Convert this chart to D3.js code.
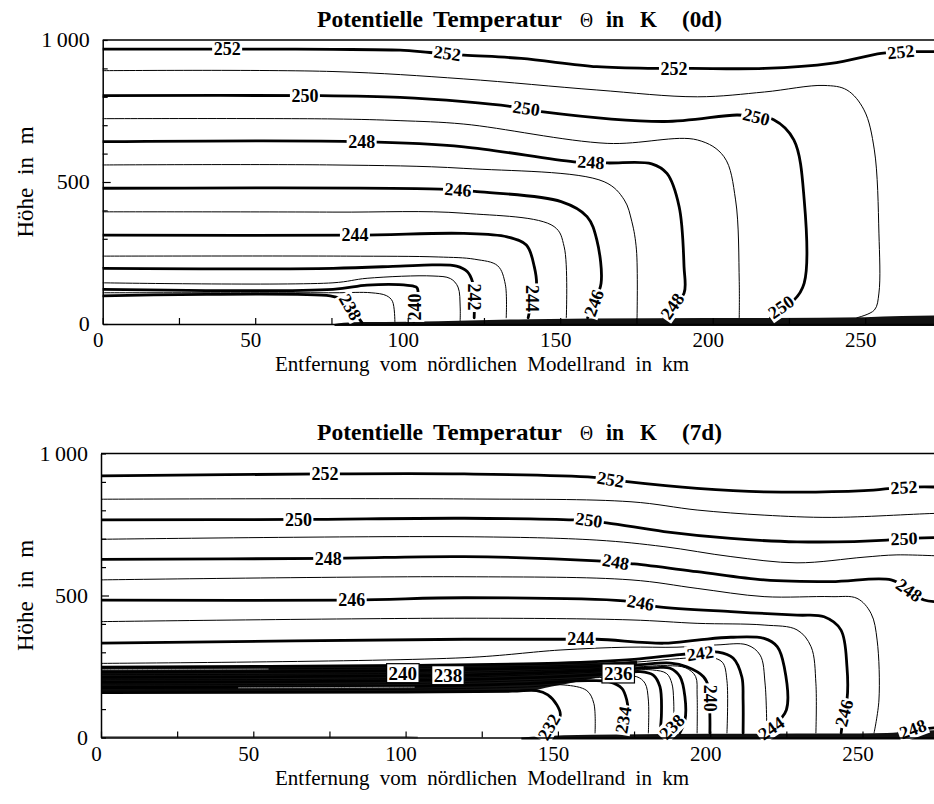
<!DOCTYPE html>
<html>
<head>
<meta charset="utf-8">
<script src="https://cdn.jsdelivr.net/npm/d3@7"></script>
<style>
  body { margin: 0; background: #fff; }
  svg { display: block; }
</style>
</head>
<body>
<svg id="chart" width="934" height="804"></svg>
<script>
// ---- Axes ----
const xTicks = [0, 25, 50, 75, 100, 125, 150, 175, 200, 225, 250, 275];
const xTickLabels = [0, 50, 100, 150, 200, 250];
const yTicks = [0, 100, 200, 300, 400, 500, 600, 700, 800, 900, 1000];
const yTickLabels = { 0: "0", 500: "500", 1000: "1\u2009000" };

// ---- 0d: isentropes, [Entfernung km, Höhe m] ----
const c0_252 = [[0,968],[34,968],[47,968],[75.5,967],[97.5,964],[107.3,956],[118.4,947],[137.2,935],[162,906],[181.7,900],[193,900],[217,900],[238.8,918],[255.2,953],[261.7,959],[268,959],[280,959]];
const c0_251 = [[0,892],[75.5,889],[118.4,863],[162,824],[195,800],[217,817],[236.5,840],[244,824],[249.6,754],[253,613],[254.5,320],[254.5,109],[253,49],[247.3,22]];
const c0_250 = [[0,804],[71.3,804],[97.5,798],[118.4,783],[133.9,766],[143.8,748],[184,713],[208,736],[214,730],[220,719],[226.6,648],[230,437],[230,144],[226.6,84],[222.4,60],[219,22]];
const c0_249 = [[0,723],[75.5,722],[97.5,716],[118.4,704],[165.4,636],[195,648],[203.7,589],[207.5,437],[208.7,150],[208.7,22]];
const c0_248 = [[0,642],[84.9,642],[118.4,624],[154.5,571],[165.4,567],[180,564],[185,530],[189,413],[190.6,202],[190.6,108],[186.7,63],[184,22]];
const c0_247 = [[0,560],[75.5,560],[118.4,548],[164.4,501],[171,437],[173.5,360],[175,261],[175.2,22]];
const c0_246 = [[0,478],[110.6,475],[122.7,466],[150.3,431],[158.8,378],[162,296],[163.4,143],[161,74],[159,22]];
const c0_245 = [[0,395],[75.5,394],[118.4,390],[148,343],[151.3,272],[152,22]];
const c0_244 = [[0,313],[82.7,313],[118.4,319],[132.6,307],[138.9,278],[141.5,202],[142.2,131],[140.8,84],[139.5,22]];
const c0_243 = [[0,239],[80,239],[110,236],[122,228],[129.5,205],[132,140],[132.3,22]];
const c0_242 = [[0,196],[75.5,196],[97.5,204],[108.3,208],[116,204],[119.5,185],[121.2,150],[121.8,95],[121.8,22]];
const c0_241 = [[0,145],[75.5,145],[86.7,161],[108.3,169],[114,160],[116.5,130],[117.2,60],[117.2,12]];
const c0_240 = [[0,122],[75.5,122],[86.7,137],[100,136],[103,128],[103.4,100],[102.4,60],[102,8]];
const c0_239 = [[0,110],[75.5,110],[88,110],[93,100],[95,80],[95.8,8]];
const c0_238 = [[0,99],[74.6,99],[78,88],[81.2,60],[85,5]];
const ground0d = [[76,0],[79,4],[85,7],[100,8],[120,12],[140,17],[180,20],[220,21],[250,24],[262,28],[280,30]];
// [Niveau, km, m, Drehung]
const labels0d = [
  [252, 40.8, 968, 0], [252, 113, 954, 8], [252, 187.3, 900, 0], [252, 261.7, 959, -6],
  [250, 66.3, 804, 0], [250, 138.9, 760, 8], [250, 214.3, 730, 14], [250, 222.4, 60, -35],
  [248, 84.9, 642, 0], [248, 160.1, 570, 4], [248, 186.7, 63, -55],
  [246, 116.5, 473, 5], [246, 161, 74, -70],
  [244, 82.7, 313, 0], [244, 140.8, 90, 90],
  [242, 121.8, 95, 90],
  [240, 102.4, 60, -90],
  [238, 81.2, 60, 60]
];

// ---- 7d ----
const c7_252 = [[0,921],[73.5,928],[119.2,928],[161.8,916],[172.7,901],[195.7,877],[217.7,865],[250.5,869],[263.6,881],[280,881]];
const c7_251 = [[0,839],[119,840],[174,830],[195.7,801],[217.7,783],[239.7,775],[273.5,789],[280,790]];
const c7_250 = [[0,766],[64.8,768],[119.2,772],[155.3,766],[166,756],[184.8,725],[206.8,701],[228.5,689],[258,695],[263.6,701],[280,705]];
const c7_249 = [[0,698],[119.2,707],[162.8,695],[184.8,672],[206.8,637],[228.5,615],[250.5,635],[261.3,643],[280,637]];
const c7_248 = [[0,627],[74.6,631],[119.2,637],[162.8,622],[175,611],[195.7,584],[217.7,555],[239.7,549],[259.4,555],[265.3,519],[270.2,484],[280,478]];
const c7_247 = [[0,555],[119.2,566],[174,555],[195.7,525],[217.7,496],[239.7,496],[248.2,490],[252.8,437],[254.8,343],[255.4,132],[253.8,16]];
const c7_246 = [[0,484],[82.3,484],[119.2,492],[171.7,481],[182.5,461],[206.8,443],[228.5,431],[237.4,425],[242.9,379],[244.9,249],[244.9,132],[243.9,86],[243,16]];
const c7_245 = [[0,408],[119.2,420],[174,414],[195.7,402],[217.7,396],[228.5,379],[233.1,320],[234.7,191],[234.7,16]];
const c7_244 = [[0,332],[119.2,346],[152,346],[162.8,346],[184.8,332],[195.7,343],[206.8,353],[217.7,349],[222,320],[224.3,249],[225,97],[220,33],[218,14]];
const c7_243 = [[0,261],[119.2,281],[150.7,308],[172.7,318],[189.1,318],[202.2,326],[212.1,326],[216.4,290],[218,192],[218.6,16]];
const c7_242 = [[0,248],[100,254],[150,262],[175,275],[190,292],[196.7,297],[202.6,301],[207.5,280],[210.4,213],[210.8,132],[210.8,16]];
const c7_241 = [[0,239],[100,245],[150,253],[175,265],[190,278],[200,282],[204,265],[205.5,200],[205.5,16]];
const c7_240 = [[0,230],[99,235],[150,246],[175,255],[187,262],[192.3,249],[197.8,214],[199.4,179],[199.9,73],[199.9,16]];
const c7_239 = [[0,221],[100,226],[150,238],[175,248],[186,253],[192,245],[195.2,215],[195.7,150],[195.7,16]];
const c7_238 = [[0,212],[113.9,219],[150,231],[170,240],[182,246],[186.8,244],[190.1,214],[191.7,144],[191.7,60],[190,16]];
const c7_237 = [[0,203],[100,208],[150,224],[170,234],[181,238],[185.7,225],[187.4,191],[188,132],[188,16]];
const c7_236 = [[0,194],[100,200],[150,214],[169.5,226],[177,232],[181.3,220],[183.5,179],[184,85],[183.5,16]];
const c7_235 = [[0,185],[100,190],[150,204],[170,214],[175.9,214],[178.6,191],[179.7,132],[179.7,16]];
const c7_234 = [[0,176],[100,180],[140,190],[160,200],[167,196],[171,173],[172.6,132],[173,97],[172,16]];
const c7_233 = [[0,167],[100,170],[140,178],[152,185],[159.5,165],[161.8,120],[162.2,16]];
const c7_232 = [[0,158],[100,160],[135,163],[143,165],[146.7,150],[149.7,114],[150.8,80],[149,40],[146.5,6]];
const c7_248b = [[262,18],[268,28],[280,40]];
// Inversionsschicht: [km, Untergrenze m, Obergrenze m]
const inversion7d = [[0,157,249],[100,159,255],[140,164,259],[148,180,261],[158,200,263],[166,218,265],[172,236,268],[176,252,271]];
// schmale Lücken zwischen den Isentropen in der Inversion
const gapA7d = [[0,239],[20,239.5],[55,241]];
const gapB7d = [[45,175],[80,176],[103,177]];
const ground7d = [[138,0],[145,4],[152,8],[170,11],[200,13],[240,14],[258,16],[266,22],[280,28]];
const surface7d = [[0,2],[100,2],[104,0]];
const labels7d = [
  [252, 73.5, 928, 0], [252, 167.3, 909, 10], [252, 263.6, 881, -3],
  [250, 64.8, 768, 0], [250, 160.2, 766, 8], [250, 263.6, 701, -2],
  [248, 74.6, 631, 0], [248, 169, 619, 10], [248, 265.3, 519, 35], [248, 266.5, 30, -20],
  [246, 82.3, 484, 0], [246, 177.2, 475, 10], [246, 243.9, 86, -75],
  [244, 157.5, 349, 0], [244, 220, 33, -35],
  [242, 196.7, 297, -8],
  [240, 99.1, 227, 0, "box"], [240, 199.9, 138, 90],
  [238, 113.9, 220, 0, "box"], [238, 187.4, 38, -45],
  [236, 169.8, 226, 0, "box"],
  [234, 171.4, 62, -80],
  [232, 147, 37, -60]
];

const lines0d = [[252,c0_252],[251,c0_251],[250,c0_250],[249,c0_249],[248,c0_248],[247,c0_247],[246,c0_246],[245,c0_245],[244,c0_244],[243,c0_243],[242,c0_242],[241,c0_241],[240,c0_240],[239,c0_239],[238,c0_238]];
const lines7d = [[252,c7_252],[251,c7_251],[250,c7_250],[249,c7_249],[248,c7_248],[247,c7_247],[246,c7_246],[245,c7_245],[244,c7_244],[243,c7_243],[242,c7_242],[241,c7_241],[240,c7_240],[239,c7_239],[238,c7_238],[237,c7_237],[236,c7_236],[235,c7_235],[234,c7_234],[233,c7_233],[232,c7_232],[248,c7_248b]];

const SERIF = '"Liberation Serif","Times New Roman","DejaVu Serif",serif';
const W = 934;
const svg = d3.select("#chart");

function drawPanel(p) {
  const x = d3.scaleLinear().domain([0, 280]).range([p.x0, p.x0 + 280 * p.kx]);
  const y = d3.scaleLinear().domain([0, 1000]).range([p.bottom, p.top]);
  const g = svg.append("g");

  svg.append("clipPath").attr("id", "clip" + p.id)
    .append("rect").attr("x", p.x0).attr("y", p.top)
    .attr("width", W - p.x0).attr("height", p.bottom - p.top + 4);
  const plot = g.append("g").attr("clip-path", `url(#clip${p.id})`);

  // dichte Bodenschicht
  plot.append("path").datum(p.ground)
    .attr("d", d3.area().x(d => x(d[0])).y0(p.bottom + 2).y1(d => y(d[1])).curve(d3.curveMonotoneX))
    .attr("fill", "#111");
  if (p.surface) {
    plot.append("path").datum(p.surface)
      .attr("d", d3.line().x(d => x(d[0])).y(d => y(d[1])))
      .attr("fill", "none").attr("stroke", "#888").attr("stroke-width", 2);
  }
  // eng gedrängte Isentropen der Inversion
  if (p.inversion) {
    plot.append("path").datum(p.inversion)
      .attr("d", d3.area().x(d => x(d[0])).y0(d => y(d[1])).y1(d => y(d[2])).curve(d3.curveMonotoneX))
      .attr("fill", "#141414");
  }

  const line = d3.line().x(d => x(d[0])).y(d => y(d[1])).curve(d3.curveCatmullRom.alpha(0.5));
  plot.selectAll("path.iso").data(p.lines).join("path").attr("class", "iso")
    .attr("d", d => line(d[1]))
    .attr("fill", "none").attr("stroke", "#000")
    .attr("stroke-width", d => d[0] % 2 === 0 ? 2.8 : 1)
    .attr("stroke-linejoin", "round").attr("stroke-linecap", "round");

  (p.gaps || []).forEach(gp => plot.append("path").attr("d", line(gp))
    .attr("fill", "none").attr("stroke", "#9a9a9a").attr("stroke-width", 0.9));

  // Beschriftung der Isentropen
  p.labels.forEach(([lev, km, m, rot, style]) => {
    const lg = plot.append("g").attr("transform", `translate(${x(km)},${y(m)}) rotate(${rot})`);
    const r = lg.append("rect").attr("fill", "#fff");
    const t = lg.append("text").text(lev)
      .attr("text-anchor", "middle").attr("dy", "0.35em")
      .attr("font-family", SERIF).attr("font-weight", "bold").attr("font-size", style === "box" ? 19 : 18);
    const b = t.node().getBBox();
    const pad = style === "box" ? 2 : 1.5;
    r.attr("x", b.x - pad).attr("y", b.y + 1).attr("width", b.width + 2 * pad).attr("height", b.height - 2);
    if (style === "box") r.attr("stroke", "#000").attr("stroke-width", 1.2);
  });

  // Rahmen und Achsen
  g.append("line").attr("x1", p.x0).attr("x2", W).attr("y1", p.top).attr("y2", p.top)
    .attr("stroke", "#000").attr("stroke-width", 1.3);

  const xa = g.append("g").attr("transform", `translate(0,${p.bottom})`)
    .call(d3.axisBottom(x).tickValues(xTicks).tickSizeInner(-6).tickSizeOuter(0)
      .tickFormat(d => xTickLabels.includes(d) ? d : ""));
  xa.select(".domain").attr("stroke-width", 1.5);
  xa.selectAll(".tick line").attr("stroke-width", 1.2);
  xa.selectAll(".tick text").attr("font-family", SERIF).attr("font-size", 21)
    .attr("fill", "#000").attr("y", 23).attr("dy", 0).attr("dx", -5);

  const ya = g.append("g").attr("transform", `translate(${p.x0},0)`)
    .call(d3.axisLeft(y).tickValues(yTicks).tickSizeInner(-5).tickSizeOuter(0)
      .tickFormat(d => yTickLabels[d] || ""));
  ya.select(".domain").attr("stroke-width", 1.5);
  ya.selectAll(".tick line").attr("stroke-width", 1.2).attr("x2", d => d === 500 ? 8 : 5);
  ya.selectAll(".tick text").attr("font-family", SERIF).attr("font-size", 22)
    .attr("fill", "#000").attr("x", -13).attr("dy", 6.5);

  // Titel
  const tt = g.append("text").attr("y", p.top - 13.5)
    .attr("font-family", SERIF).attr("font-weight", "bold").attr("font-size", 23.5);
  const words = [["Potentielle", 317, 106], ["Temperatur", 433, 129], ["\u0398", 580, 13, "normal"], ["in", 606, 18], ["K", 640, 17], [p.tag, 682, 40]];
  words.forEach(([w, wx, wl, fw]) => {
    const s = tt.append("tspan").attr("x", wx).text(w).attr("textLength", wl).attr("lengthAdjust", "spacingAndGlyphs");
    if (fw) s.attr("font-weight", fw).attr("font-size", 20);
  });

  g.append("text").attr("x", 482).attr("y", p.bottom + 47)
    .attr("text-anchor", "middle").attr("font-family", SERIF).attr("font-size", 21)
    .attr("word-spacing", 5)
    .text("Entfernung vom nördlichen Modellrand in km");

  g.append("text").attr("transform", `translate(33,${(p.top + p.bottom) / 2}) rotate(-90)`)
    .attr("text-anchor", "middle").attr("font-family", SERIF).attr("font-size", 23)
    .attr("word-spacing", 7)
    .text("Höhe in m");
}

drawPanel({ id: "a", tag: "(0d)", x0: 102.7, kx: 3.05, top: 40, bottom: 324,
  lines: lines0d, labels: labels0d, ground: ground0d });
drawPanel({ id: "b", tag: "(7d)", x0: 101, kx: 3.046, top: 453.5, bottom: 737.5,
  lines: lines7d, labels: labels7d, ground: ground7d, surface: surface7d,
  inversion: inversion7d, gaps: [gapA7d, gapB7d] });
</script>
</body>
</html>
